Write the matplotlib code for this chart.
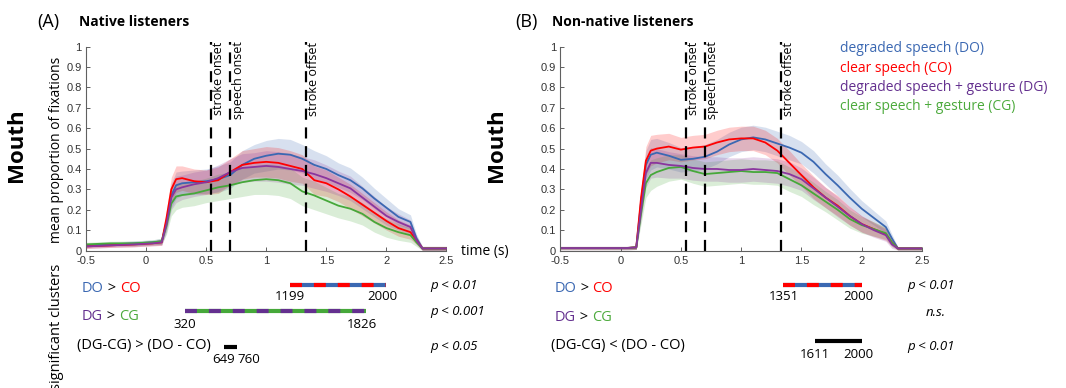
import matplotlib
matplotlib.use("Agg")
import matplotlib.pyplot as plt
import numpy as np

plt.rcParams["font.family"] = ["Open Sans", "DejaVu Sans"]
plt.rcParams["lines.scale_dashes"] = False

W, H = 1066, 388

# time axis (s) shared by all series
TIME = [-0.5, -0.3, -0.1, 0.05, 0.13, 0.17, 0.21, 0.25, 0.3, 0.4, 0.5, 0.6, 0.7, 0.8,
        0.9, 1.0, 1.1, 1.2, 1.3, 1.4, 1.5, 1.6, 1.7, 1.8, 1.9, 2.0, 2.1, 2.2, 2.25, 2.3, 2.5]

# (A) native listeners
NATIVE_DO = [0.025, 0.03, 0.035, 0.04, 0.045, 0.14, 0.27, 0.32, 0.33, 0.335, 0.34, 0.35, 0.37, 0.42,
             0.45, 0.465, 0.475, 0.47, 0.45, 0.42, 0.40, 0.37, 0.345, 0.305, 0.255, 0.21, 0.165, 0.14, 0.06, 0.01, 0.01]
NATIVE_CO = [0.02, 0.025, 0.03, 0.035, 0.04, 0.16, 0.30, 0.35, 0.355, 0.34, 0.335, 0.345, 0.385, 0.42,
             0.43, 0.435, 0.43, 0.415, 0.40, 0.345, 0.33, 0.30, 0.265, 0.225, 0.185, 0.145, 0.11, 0.09, 0.05, 0.01, 0.01]
NATIVE_DG = [0.02, 0.025, 0.03, 0.035, 0.04, 0.13, 0.26, 0.30, 0.31, 0.325, 0.335, 0.355, 0.385, 0.405,
             0.41, 0.415, 0.41, 0.40, 0.39, 0.375, 0.355, 0.33, 0.305, 0.26, 0.215, 0.17, 0.14, 0.115, 0.05, 0.01, 0.01]
NATIVE_CG = [0.03, 0.035, 0.035, 0.04, 0.045, 0.12, 0.23, 0.265, 0.272, 0.28, 0.295, 0.31, 0.32, 0.335,
             0.345, 0.35, 0.345, 0.33, 0.29, 0.27, 0.245, 0.22, 0.205, 0.18, 0.14, 0.11, 0.09, 0.075, 0.04, 0.01, 0.01]
NATIVE_SPREAD = [0.01, 0.01, 0.012, 0.012, 0.015, 0.04, 0.06, 0.065, 0.06, 0.06, 0.06, 0.065, 0.065, 0.07,
                 0.07, 0.075, 0.075, 0.075, 0.07, 0.07, 0.065, 0.06, 0.06, 0.055, 0.05, 0.045, 0.04, 0.035, 0.02, 0.01, 0.01]

# (B) non-native listeners
NONNATIVE_DO = [0.012, 0.012, 0.012, 0.012, 0.015, 0.24, 0.42, 0.47, 0.48, 0.465, 0.445, 0.45, 0.46, 0.485,
                0.52, 0.545, 0.555, 0.545, 0.525, 0.505, 0.48, 0.435, 0.375, 0.32, 0.26, 0.205, 0.16, 0.115, 0.06, 0.01, 0.01]
NONNATIVE_CO = [0.012, 0.012, 0.012, 0.012, 0.015, 0.26, 0.44, 0.49, 0.50, 0.51, 0.495, 0.505, 0.51, 0.53,
                0.545, 0.55, 0.55, 0.53, 0.49, 0.43, 0.37, 0.31, 0.26, 0.22, 0.17, 0.13, 0.105, 0.08, 0.04, 0.01, 0.01]
NONNATIVE_DG = [0.012, 0.012, 0.012, 0.012, 0.015, 0.2, 0.38, 0.43, 0.43, 0.42, 0.415, 0.405, 0.40, 0.40,
                0.395, 0.395, 0.40, 0.395, 0.39, 0.375, 0.35, 0.305, 0.26, 0.215, 0.17, 0.13, 0.10, 0.075, 0.03, 0.01, 0.01]
NONNATIVE_CG = [0.012, 0.012, 0.012, 0.012, 0.015, 0.18, 0.33, 0.37, 0.385, 0.405, 0.41, 0.39, 0.375, 0.38,
                0.385, 0.39, 0.385, 0.385, 0.38, 0.35, 0.32, 0.28, 0.24, 0.2, 0.155, 0.125, 0.105, 0.085, 0.04, 0.01, 0.01]
NONNATIVE_SPREAD = [0.008, 0.008, 0.008, 0.008, 0.01, 0.05, 0.07, 0.075, 0.07, 0.065, 0.06, 0.06, 0.06, 0.06,
                    0.06, 0.06, 0.06, 0.06, 0.06, 0.06, 0.055, 0.055, 0.05, 0.05, 0.045, 0.04, 0.035, 0.03, 0.02, 0.008, 0.008]

EVENT_TIMES = [0.54, 0.70, 1.33]
EVENT_LABELS = ["stroke onset", "speech onset", "stroke offset"]

XTICKS = [-0.5, 0, 0.5, 1, 1.5, 2, 2.5]
XTICK_LABELS = ["-0.5", "0", "0.5", "1", "1.5", "2", "2.5"]
YTICKS = [0, 0.1, 0.2, 0.3, 0.4, 0.5, 0.6, 0.7, 0.8, 0.9, 1]
YTICK_LABELS = ["0", "0.1", "0.2", "0.3", "0.4", "0.5", "0.6", "0.7", "0.8", "0.9", "1"]

# significant clusters (ms): start, end
NATIVE_CLUSTERS = [(1199, 2000), (320, 1826), (649, 760)]
NATIVE_P = ["p < 0.01", "p < 0.001", "p < 0.05"]
NONNATIVE_CLUSTERS = [(1351, 2000), None, (1611, 2000)]
NONNATIVE_P = ["p < 0.01", "n.s.", "p < 0.01"]

LEGEND_LABELS = ["degraded speech (DO)", "clear speech (CO)",
                 "degraded speech + gesture (DG)", "clear speech + gesture (CG)"]

BLUE = "#3b68b2"
RED = "#ff0000"
PURPLE = "#8a359e"
PURPLE_TXT = "#64308f"
GREEN = "#46a83a"
GREEN_TXT = "#4caa3c"

fig = plt.figure(figsize=(W / 100, H / 100), dpi=100)


def add_axes_px(left, top, right, bottom):
    return fig.add_axes([left / W, 1 - bottom / H, (right - left) / W, (bottom - top) / H])


def draw_panel(ax, series, spread):
    t = np.array(TIME)
    s = np.array(spread)
    for vals, col in series:
        v = np.array(vals)
        ax.fill_between(t, v - s, v + s, color=col, alpha=0.2, lw=0)
    for vals, col in series:
        ax.plot(t, vals, color=col, lw=1.3)
    for ev, lab in zip(EVENT_TIMES, EVENT_LABELS):
        ax.plot([ev, ev], [0, 1.025], color="k", lw=1.6, ls=(0, (8, 5.5)), clip_on=False)
        ax.text(ev + 0.012, 1.025, lab, rotation=90, ha="left", va="top", fontsize=9)
    ax.set_xlim(-0.5, 2.5)
    ax.set_ylim(0, 1)
    ax.set_xticks(XTICKS)
    ax.set_xticklabels(XTICK_LABELS)
    ax.set_yticks(YTICKS)
    ax.set_yticklabels(YTICK_LABELS)
    for sp in ["top", "right"]:
        ax.spines[sp].set_visible(False)
    for sp in ["left", "bottom"]:
        ax.spines[sp].set_color("#606060")
        ax.spines[sp].set_linewidth(0.8)
    ax.tick_params(direction="in", length=3, width=0.7, colors="#606060", labelcolor="#333333",
                   labelsize=8, labelfontfamily="Liberation Sans")
    ax.tick_params(axis="x", pad=4)
    ax.tick_params(axis="y", pad=3)
    ax.patch.set_alpha(0)


axA = add_axes_px(86, 46.7, 446.5, 250.5)
draw_panel(axA, [(NATIVE_DO, BLUE), (NATIVE_CO, RED), (NATIVE_CG, GREEN), (NATIVE_DG, PURPLE)],
           NATIVE_SPREAD)
axB = add_axes_px(560.3, 46.7, 922, 250.5)
draw_panel(axB, [(NONNATIVE_DO, BLUE), (NONNATIVE_CO, RED), (NONNATIVE_CG, GREEN), (NONNATIVE_DG, PURPLE)],
           NONNATIVE_SPREAD)


def cluster_axes(left, right):
    ax = add_axes_px(left, 0, right, H)
    ax.set_xlim(-0.5, 2.5)
    ax.set_ylim(H, 0)
    ax.axis("off")
    return ax


def draw_bar(ax, start, end, y, colors):
    x = [start / 1000, end / 1000]
    lw = 3.0
    if len(colors) == 1:
        ax.plot(x, [y, y], color=colors[0], lw=lw, solid_capstyle="butt", clip_on=False)
    else:
        ax.plot(x, [y, y], color=colors[1], lw=lw, solid_capstyle="butt", clip_on=False)
        ax.plot(x, [y, y], color=colors[0], lw=lw, ls=(0, (8.6, 8.6)), dash_capstyle="butt", clip_on=False)


cA = cluster_axes(86, 446.5)
cB = cluster_axes(560.3, 922)

bar_colors = [(RED, BLUE), (PURPLE_TXT, GREEN), ("k",)]

for ax, clusters, rows_y, lab_y in [(cA, NATIVE_CLUSTERS, [285, 311.3, 346.7], [296.7, 324, 359.3]),
                                    (cB, NONNATIVE_CLUSTERS, [285, 311.3, 341], [296.7, 324, 354.3])]:
    for i, cl in enumerate(clusters):
        if cl is None:
            continue
        draw_bar(ax, cl[0], cl[1], rows_y[i], bar_colors[i])
        short = (cl[1] - cl[0]) < 200
        ax.text(cl[0] / 1000, lab_y[i], str(cl[0]), ha="center", va="center", fontsize=9.5)
        ax.text(cl[1] / 1000 - (0.0 if short else 0.03), lab_y[i], str(cl[1]),
                ha="left" if short else "center", va="center", fontsize=9.5)

# layout text in pixel coordinates
lay = fig.add_axes([0, 0, 1, 1])
lay.set_xlim(0, W)
lay.set_ylim(H, 0)
lay.axis("off")


def rainbow(x, y, parts, size=10.5):
    t = lay.text(x, y, parts[0][0], color=parts[0][1], fontsize=size, ha="left", va="center")
    for s, c in parts[1:]:
        t = lay.annotate(s, xycoords=t, xy=(1, 0), va="bottom", ha="left", color=c, fontsize=size)


# titles
lay.text(37, 21.7, "(A)", fontsize=13, va="center", ha="left")
lay.text(79, 21.7, "Native listeners", fontsize=10, fontweight="bold", va="center", ha="left")
lay.text(515, 21.7, "(B)", fontsize=13, va="center", ha="left")
lay.text(552, 21.7, "Non-native listeners", fontsize=10, fontweight="bold", va="center", ha="left")

# big row labels
lay.text(17, 145, "Mouth", rotation=90, fontsize=16, fontweight="bold", ha="center", va="center")
lay.text(497, 145, "Mouth", rotation=90, fontsize=16, fontweight="bold", ha="center", va="center")

lay.text(57, 150, "mean proportion of fixations", rotation=90, fontsize=10, ha="center", va="center")
lay.text(461, 252, "time (s)", fontsize=10, ha="left", va="center")
lay.text(57, 327, "significant clusters", rotation=90, fontsize=10.5, ha="center", va="center")

# legend
for i, (lab, col) in enumerate(zip(LEGEND_LABELS, [BLUE, RED, PURPLE_TXT, GREEN_TXT])):
    lay.text(840, [49, 68.3, 87.3, 106.7][i], lab, color=col, fontsize=10, ha="left", va="center")

# cluster row labels
rainbow(82, 289, [("DO", BLUE), (" > ", "k"), ("CO", RED)])
rainbow(82, 316.7, [("DG", PURPLE_TXT), (" > ", "k"), ("CG", GREEN_TXT)])
lay.text(77, 346, "(DG-CG) > (DO - CO)", fontsize=10.5, ha="left", va="center")
rainbow(554.7, 289, [("DO", BLUE), (" > ", "k"), ("CO", RED)])
rainbow(554.7, 317.7, [("DG", PURPLE_TXT), (" > ", "k"), ("CG", GREEN_TXT)])
lay.text(551, 345.7, "(DG-CG) < (DO - CO)", fontsize=10.5, ha="left", va="center")

# p-values
for y, p in zip([285, 312, 346.7], NATIVE_P):
    lay.text(430, y, p, fontsize=9.5, style="italic", ha="left", va="center")
for y, p in zip([285, 312, 346.7], NONNATIVE_P):
    if p == "n.s.":
        lay.text(936, y, p, fontsize=9.5, style="italic", ha="center", va="center")
    else:
        lay.text(907, y, p, fontsize=9.5, style="italic", ha="left", va="center")

fig.savefig("out.png", dpi=100)
